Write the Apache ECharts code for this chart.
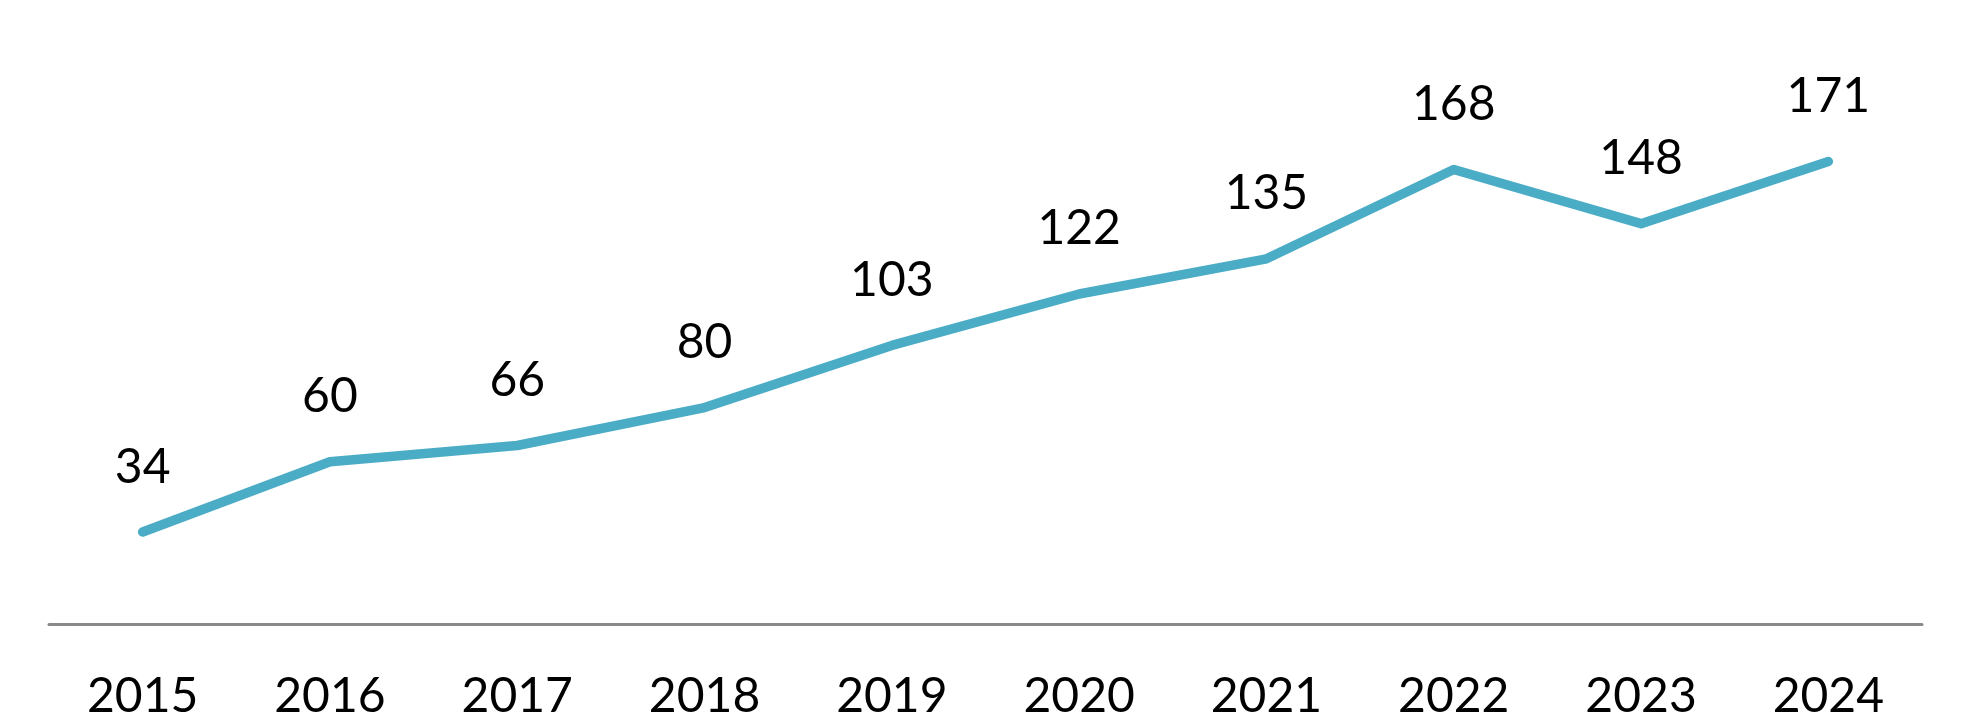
<!DOCTYPE html>
<html>
<head>
<meta charset="utf-8">
<script src="https://cdn.jsdelivr.net/npm/echarts@6/dist/echarts.min.js"></script>
<style>
  html, body { margin: 0; padding: 0; background: #fff; }
  #chart { width: 1980px; height: 726px; }
</style>
</head>
<body>
<div id="chart"></div>
<script>
var years = ['2015', '2016', '2017', '2018', '2019', '2020', '2021', '2022', '2023', '2024'];
var values = [34, 60, 66, 80, 103, 122, 135, 168, 148, 171];

var chart = echarts.init(document.getElementById('chart'));
chart.setOption({
  animation: false,
  grid: { left: 49, right: 58, top: 83, bottom: 102 },
  xAxis: {
    type: 'category',
    data: years,
    boundaryGap: true,
    axisLine: { lineStyle: { color: '#898989', width: 3 } },
    axisTick: { show: false },
    axisLabel: {
      color: '#000',
      fontFamily: 'Lato',
      fontSize: 48,
      margin: 49
    }
  },
  yAxis: {
    type: 'value',
    min: 0,
    max: 200,
    show: false
  },
  series: [{
    type: 'line',
    data: values,
    symbol: 'circle',
    symbolSize: 2,
    itemStyle: { color: '#4BACC6' },
    lineStyle: { color: '#4BACC6', width: 9.5, cap: 'round', join: 'round' },
    label: {
      show: true,
      position: 'top',
      distance: 40,
      color: '#000',
      fontFamily: 'Lato',
      fontSize: 48
    }
  }]
});
</script>
</body>
</html>
